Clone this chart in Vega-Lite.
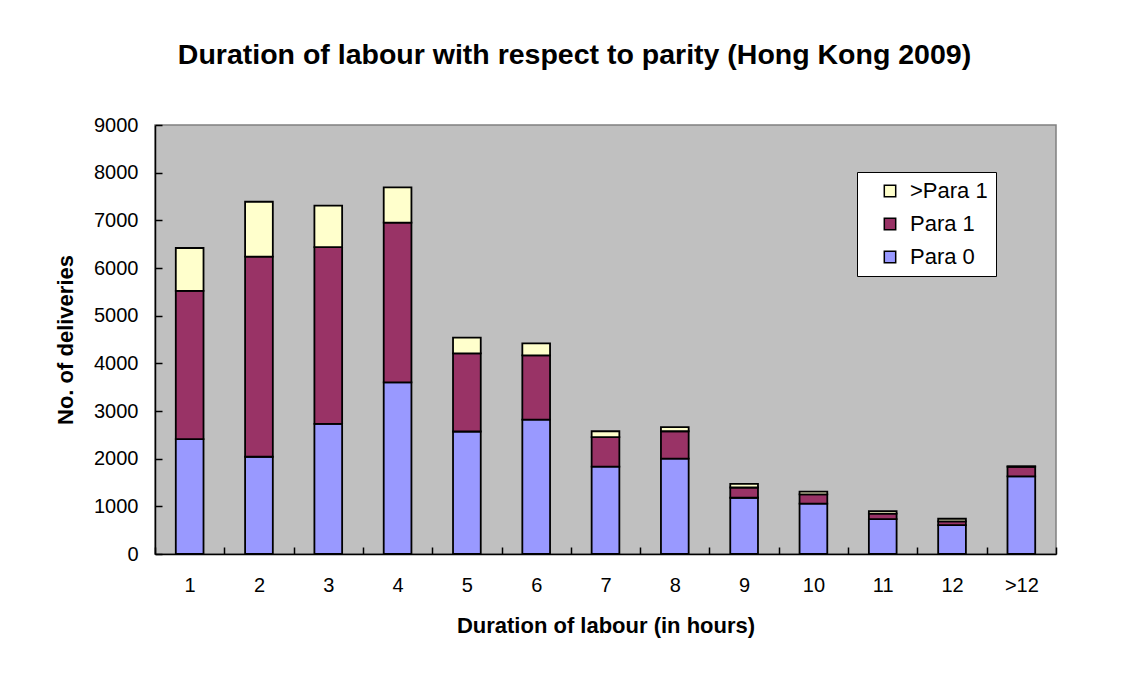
{
  "$schema": "https://vega.github.io/schema/vega-lite/v6.json",
  "autosize": {"type": "none"},
  "width": 901,
  "height": 429,
  "padding": {"left": 155, "top": 125, "right": 71, "bottom": 121},
  "background": "white",
  "title": {
    "text": "Duration of labour with respect to parity (Hong Kong 2009)",
    "font": "Liberation Sans",
    "fontSize": 28.5,
    "fontWeight": "bold",
    "color": "black",
    "anchor": "middle",
    "frame": "group",
    "dx": -31,
    "offset": 46
  },
  "data": {
    "values": [
      {"hours": "1", "parity": "Para 0", "count": 2410},
      {"hours": "1", "parity": "Para 1", "count": 3110},
      {"hours": "1", "parity": ">Para 1", "count": 900},
      {"hours": "2", "parity": "Para 0", "count": 2040},
      {"hours": "2", "parity": "Para 1", "count": 4200},
      {"hours": "2", "parity": ">Para 1", "count": 1150},
      {"hours": "3", "parity": "Para 0", "count": 2730},
      {"hours": "3", "parity": "Para 1", "count": 3710},
      {"hours": "3", "parity": ">Para 1", "count": 870},
      {"hours": "4", "parity": "Para 0", "count": 3600},
      {"hours": "4", "parity": "Para 1", "count": 3350},
      {"hours": "4", "parity": ">Para 1", "count": 740},
      {"hours": "5", "parity": "Para 0", "count": 2570},
      {"hours": "5", "parity": "Para 1", "count": 1640},
      {"hours": "5", "parity": ">Para 1", "count": 330},
      {"hours": "6", "parity": "Para 0", "count": 2820},
      {"hours": "6", "parity": "Para 1", "count": 1345},
      {"hours": "6", "parity": ">Para 1", "count": 255},
      {"hours": "7", "parity": "Para 0", "count": 1835},
      {"hours": "7", "parity": "Para 1", "count": 615},
      {"hours": "7", "parity": ">Para 1", "count": 125},
      {"hours": "8", "parity": "Para 0", "count": 2000},
      {"hours": "8", "parity": "Para 1", "count": 575},
      {"hours": "8", "parity": ">Para 1", "count": 85},
      {"hours": "9", "parity": "Para 0", "count": 1180},
      {"hours": "9", "parity": "Para 1", "count": 215},
      {"hours": "9", "parity": ">Para 1", "count": 75},
      {"hours": "10", "parity": "Para 0", "count": 1055},
      {"hours": "10", "parity": "Para 1", "count": 195},
      {"hours": "10", "parity": ">Para 1", "count": 60},
      {"hours": "11", "parity": "Para 0", "count": 730},
      {"hours": "11", "parity": "Para 1", "count": 115},
      {"hours": "11", "parity": ">Para 1", "count": 55},
      {"hours": "12", "parity": "Para 0", "count": 605},
      {"hours": "12", "parity": "Para 1", "count": 80},
      {"hours": "12", "parity": ">Para 1", "count": 55},
      {"hours": ">12", "parity": "Para 0", "count": 1630},
      {"hours": ">12", "parity": "Para 1", "count": 200},
      {"hours": ">12", "parity": ">Para 1", "count": 10}
    ]
  },
  "transform": [
    {"calculate": "indexof(['Para 0','Para 1','>Para 1'], datum.parity)", "as": "stackOrder"}
  ],
  "mark": {"type": "bar", "stroke": "black", "strokeWidth": 1.8, "width": {"band": 0.4}},
  "encoding": {
    "x": {
      "field": "hours",
      "type": "ordinal",
      "sort": ["1","2","3","4","5","6","7","8","9","10","11","12",">12"],
      "scale": {"paddingInner": 0, "paddingOuter": 0},
      "axis": {
        "title": "Duration of labour (in hours)",
        "titleFont": "Liberation Sans",
        "titleFontSize": 22,
        "titleFontWeight": "bold",
        "titleColor": "black",
        "titlePadding": 20,
        "labelAngle": 0,
        "labelFont": "Liberation Sans",
        "labelFontSize": 20,
        "labelColor": "black",
        "labelPadding": 28,
        "tickBand": "extent",
        "tickSize": -7,
        "tickColor": "black",
        "tickWidth": 1.5,
        "domainColor": "black",
        "domainWidth": 1.5,
        "zindex": 1
      }
    },
    "y": {
      "field": "count",
      "type": "quantitative",
      "aggregate": "sum",
      "stack": "zero",
      "scale": {"domain": [0, 9000]},
      "axis": {
        "title": "No. of deliveries",
        "titleFont": "Liberation Sans",
        "titleFontSize": 22,
        "titleFontWeight": "bold",
        "titleColor": "black",
        "titlePadding": 16,
        "values": [0,1000,2000,3000,4000,5000,6000,7000,8000,9000],
        "format": "d",
        "grid": false,
        "labelFont": "Liberation Sans",
        "labelFontSize": 20,
        "labelColor": "black",
        "labelPadding": 24,
        "tickSize": -7,
        "tickColor": "black",
        "tickWidth": 1.5,
        "domainColor": "black",
        "domainWidth": 1.5,
        "zindex": 1
      }
    },
    "color": {
      "field": "parity",
      "type": "nominal",
      "scale": {
        "domain": [">Para 1", "Para 1", "Para 0"],
        "range": ["#FFFFCC", "#993366", "#9999FF"]
      },
      "legend": {
        "title": null,
        "orient": "none",
        "legendX": 702,
        "legendY": 47,
        "fillColor": "white",
        "strokeColor": "black",
        "padding": 8,
        "labelFont": "Liberation Sans",
        "labelFontSize": 22,
        "labelColor": "black",
        "labelExpr": "datum.label + '\u00a0\u00a0'",
        "symbolType": "square",
        "symbolSize": 130,
        "symbolOffset": 14,
        "symbolStrokeColor": "black",
        "symbolStrokeWidth": 1.5,
        "rowPadding": 11,
        "labelOffset": 9
      }
    },
    "order": {"field": "stackOrder", "type": "quantitative", "sort": "ascending"}
  },
  "config": {
    "view": {"fill": "#C0C0C0", "stroke": "#808080", "strokeWidth": 1.5}
  }
}
